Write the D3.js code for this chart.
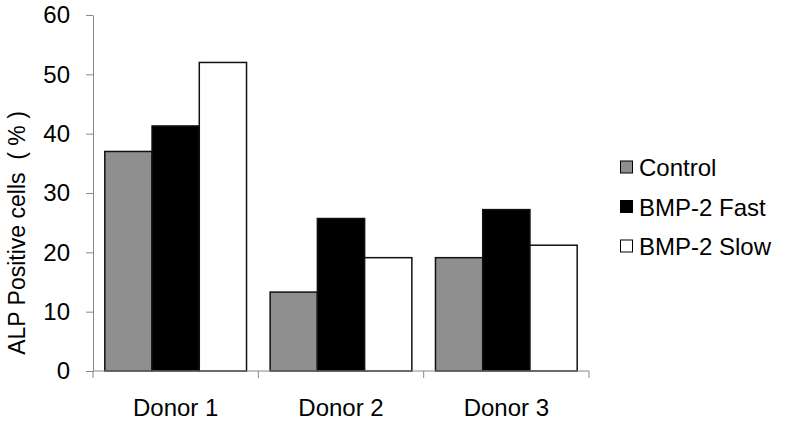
<!DOCTYPE html>
<html><head><meta charset="utf-8">
<script src="https://cdn.jsdelivr.net/npm/d3@7"></script>
<style>body{margin:0;background:#fff}svg{display:block}text{font-family:"Liberation Sans",Arial,sans-serif;fill:#000}</style>
</head><body><svg id="c" width="792" height="426"></svg>
<script>
const categories = ["Donor 1","Donor 2","Donor 3"];
const seriesNames = ["Control","BMP-2 Fast","BMP-2 Slow"];
const controlValues = [37.0, 13.3, 19.1];
const fastValues = [41.3, 25.7, 27.2];
const slowValues = [52.0, 19.1, 21.2];
const yTicks = [0,10,20,30,40,50,60];
const yLabel = "ALP Positive cells ( % )";
const colors = ["#8f8f8f","#000000","#ffffff"];

const series = [controlValues, fastValues, slowValues];
const svg = d3.select("#c");
const x0 = d3.scaleBand().domain(categories).range([93,589]).paddingInner(0).paddingOuter(0);
const x1 = d3.scaleBand().domain(seriesNames).range([0, x0.bandwidth()]).paddingInner(0).paddingOuter(0.25);
const y = d3.scaleLinear().domain([0,60]).range([371,15]);
const FONT = "Liberation Sans, Arial, sans-serif";

// bars
categories.forEach((c,i)=>{
  series.forEach((s,j)=>{
    svg.append("rect")
      .attr("x", x0(c)+x1(seriesNames[j]))
      .attr("y", y(s[i]))
      .attr("width", x1.bandwidth())
      .attr("height", y(0)-y(s[i]))
      .attr("fill", colors[j])
      .attr("stroke","#111").attr("stroke-width",1.5);
  });
});

// y axis
const ya = svg.append("g").attr("transform","translate(93,0)")
  .call(d3.axisLeft(y).tickValues(yTicks).tickSize(7).tickPadding(16).tickSizeOuter(0));
ya.attr("font-size",24).attr("font-family",FONT);
ya.select(".domain").attr("stroke","#888");
ya.selectAll(".tick line").attr("stroke","#888");
ya.selectAll(".tick text").attr("fill","#000");

// x axis
const xa = svg.append("g").attr("transform","translate(0,371)");
xa.append("line").attr("x1",93).attr("x2",589).attr("y1",0).attr("y2",0).attr("stroke","#888");
const bounds = categories.map(c=>x0(c)).concat([x0.range()[1]]);
bounds.forEach(b=>{
  xa.append("line").attr("x1",b).attr("x2",b).attr("y1",0).attr("y2",7).attr("stroke","#888");
});
categories.forEach(c=>{
  xa.append("text").attr("x", x0(c)+x0.bandwidth()/2).attr("y",45)
    .attr("text-anchor","middle").attr("font-size",24).text(c);
});

// y label
svg.append("text").attr("transform","translate(25,233) rotate(-90)")
  .attr("text-anchor","middle").attr("font-size",23)
  .style("white-space","pre").text(yLabel.replace(" (","  ("));

// legend
const lg = svg.append("g");
seriesNames.forEach((n,j)=>{
  const cy = 167 + j*39.5;
  lg.append("rect").attr("x",620.5).attr("y",cy-6).attr("width",12).attr("height",12)
    .attr("fill",colors[j]).attr("stroke","#000").attr("stroke-width",1);
  lg.append("text").attr("x",639).attr("y",cy+9).attr("font-size",24).text(n);
});
</script></body></html>
